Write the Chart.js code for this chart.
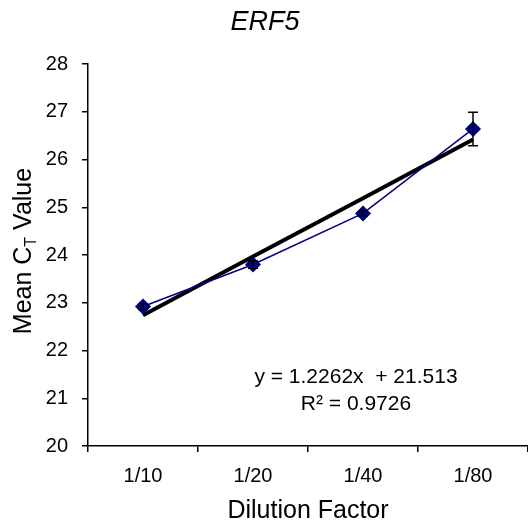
<!DOCTYPE html>
<html>
<head>
<meta charset="utf-8">
<script src="https://cdn.jsdelivr.net/npm/chart.js@4"></script>
<style>
html,body{margin:0;padding:0;background:#fff;overflow:hidden;}
#ctChart{display:block;}
</style>
</head>
<body>
<canvas id="ctChart" width="528" height="526"></canvas>
<script>

//=============================
// DATA
//=============================

const dilutions = ["1/10","1/20","1/40","1/80"];

const meanCt = [22.92, 23.80, 24.87, 26.64];

const ctError = [0.06, 0.08, 0.05, 0.35];

// regression line y = 1.2262x + 21.513
const trendCt = [22.74, 23.97, 25.19, 26.42];

const yTicks = [20,21,22,23,24,25,26,27,28];

const equationText = ["y = 1.2262x  + 21.513", "R\u00B2 = 0.9726"];

const FONT = "'Liberation Sans', Arial, sans-serif";

//=============================
// PLUGINS
//=============================

const errorBars = {
    id:"errorBars",
    afterDatasetsDraw(chart){
        const ctx = chart.ctx;
        const xs = chart.scales.x, ys = chart.scales.y;
        ctx.save();
        ctx.strokeStyle = "#000";
        ctx.lineWidth = 1.5;
        meanCt.forEach((v,i)=>{
            const x = xs.getPixelForValue(i);
            const top = ys.getPixelForValue(v+ctError[i]);
            const bot = ys.getPixelForValue(v-ctError[i]);
            ctx.beginPath();
            ctx.moveTo(x,top); ctx.lineTo(x,bot);
            ctx.moveTo(x-5,top); ctx.lineTo(x+5,top);
            ctx.moveTo(x-5,bot); ctx.lineTo(x+5,bot);
            ctx.stroke();
        });
        ctx.restore();
    }
};

const texts = {
    id:"texts",
    afterDraw(chart){
        const ctx = chart.ctx;
        ctx.save();
        ctx.fillStyle = "#000";
        ctx.textBaseline = "alphabetic";
        ctx.textAlign = "center";

        // title
        ctx.font = "italic 27px " + FONT;
        ctx.fillText("ERF5", 265, 30);

        // equation
        ctx.font = "21px " + FONT;
        ctx.fillText(equationText[0], 356, 383);
        ctx.fillText(equationText[1], 356, 410);

        // y title with subscript
        ctx.translate(31, 251);
        ctx.rotate(-Math.PI/2);
        const a = "Mean C", b = "T", c = " Value";
        ctx.font = "25px " + FONT;
        const wa = ctx.measureText(a).width;
        const wc = ctx.measureText(c).width;
        ctx.font = "16px " + FONT;
        const wb = ctx.measureText(b).width;
        let x = -(wa+wb+wc)/2;
        ctx.textAlign = "left";
        ctx.font = "25px " + FONT;
        ctx.fillText(a, x, 0); x += wa;
        ctx.font = "16px " + FONT;
        ctx.fillText(b, x, 5); x += wb;
        ctx.font = "25px " + FONT;
        ctx.fillText(c, x, 0);
        ctx.restore();
    }
};

//=============================
// CHART
//=============================

new Chart(document.getElementById("ctChart"),{

type:"line",

data:{
    labels:dilutions,
    datasets:[
        {
            label:"Trend",
            data:trendCt,
            borderColor:"#000",
            borderWidth:4,
            pointRadius:0,
            fill:false,
            order:2
        },
        {
            label:"Mean CT",
            data:meanCt,
            borderColor:"#000080",
            backgroundColor:"#000080",
            borderWidth:1.5,
            pointStyle:"rectRot",
            pointRadius:7,
            fill:false,
            order:1
        }
    ]
},

options:{
    responsive:false,
    animation:false,
    layout:{autoPadding:false,padding:{top:64,right:-6,left:0,bottom:0}},
    plugins:{
        legend:{display:false},
        title:{display:false},
        tooltip:{enabled:false}
    },
    scales:{
        x:{
            offset:true,
            grid:{
                offset:true,
                drawOnChartArea:false,
                drawTicks:true,
                tickLength:6,
                color:"#000",
                lineWidth:1.5
            },
            border:{color:"#000",width:1.5},
            ticks:{
                color:"#000",
                font:{family:FONT,size:20},
                padding:12
            },
            title:{
                display:true,
                text:"Dilution Factor",
                color:"#000",
                font:{family:FONT,size:25},
                padding:{top:4,bottom:0}
            },
            afterFit(s){ s.height = 80; }
        },
        y:{
            min:20,
            max:28,
            afterBuildTicks(s){ s.ticks = yTicks.map(v=>({value:v})); },
            grid:{
                drawOnChartArea:false,
                drawTicks:true,
                tickLength:6,
                color:"#000",
                lineWidth:1.5
            },
            border:{color:"#000",width:1.5},
            ticks:{
                color:"#000",
                font:{family:FONT,size:20},
                padding:14
            },
            afterFit(s){ s.width = 88; }
        }
    }
},

plugins:[errorBars,texts]

});

</script>
</body>
</html>
